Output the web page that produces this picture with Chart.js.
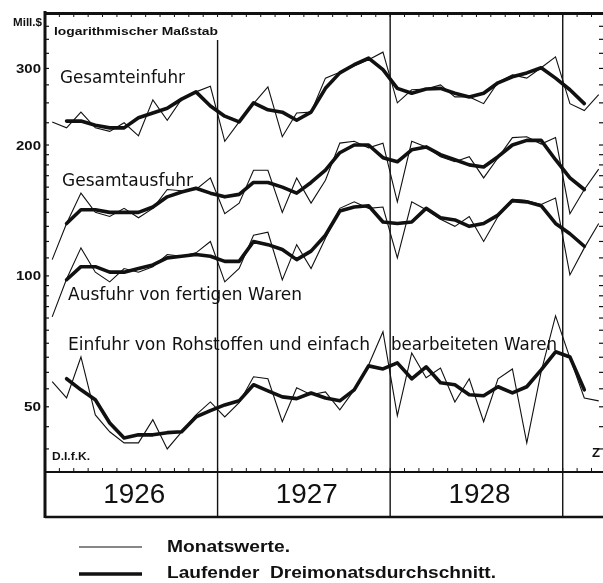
<!DOCTYPE html>
<html><head><meta charset="utf-8">
<script src="https://cdn.jsdelivr.net/npm/chart.js@4/dist/chart.umd.min.js"></script>
<style>html,body{margin:0;padding:0;background:#fff;}canvas{display:block;}</style>
</head><body>
<canvas id="c" width="603" height="583"></canvas>
<script>
// ---- data (Mill. $, monthly Jan 1926 – Mar 1929) ----
const months = ['1926-01','1926-02','1926-03','1926-04','1926-05','1926-06','1926-07','1926-08','1926-09','1926-10','1926-11','1926-12',
 '1927-01','1927-02','1927-03','1927-04','1927-05','1927-06','1927-07','1927-08','1927-09','1927-10','1927-11','1927-12',
 '1928-01','1928-02','1928-03','1928-04','1928-05','1928-06','1928-07','1928-08','1928-09','1928-10','1928-11','1928-12',
 '1929-01','1929-02','1929-03'];
const years = ['1926','1927','1928'];
const yTickLabels = [300, 200, 100, 50];

const geMonthly = [226,219,238,219,215,225,210,254,228,255,265,273,204,226,249,272,209,237,238,285,294,304,314,327,250,268,269,275,258,258,249,279,290,285,301,319,249,240,261];
const geAvg     = [null,227,227,222,219,219,231,237,243,255,265,246,233,226,250,241,238,228,238,270,293,306,317,298,270,263,269,270,263,258,263,278,287,293,301,285,268,249,null];
const gaMonthly = [109,132,155,140,137,143,136,143,158,157,158,168,139,147,175,175,140,168,147,166,202,204,197,202,148,204,198,188,183,188,168,187,208,209,201,208,139,158,176];
const gaAvg     = [null,132,142,142,140,140,140,144,152,156,159,155,152,154,164,164,160,155,164,175,192,200,200,187,183,195,198,190,185,180,178,188,200,205,205,185,168,158,null];
const afMonthly = [80.5,98.4,116,102,96.9,104,102,105,112,111,113,120,96.9,104,124,126,97.9,118,104,122,143,148,143,144,110,148,142,135,130,137,120,137,150,149,146,151,100.5,116,132];
const afAvg     = [null,98,105,105,102,102,104,106,110,111,112,111,108,108,120,118,115,109,114,124,141,144,145,133,132,133,143,136,134.5,130,132,138,149,148,145,132,125,117,null];
const erMonthly = [57.1,52.4,65.1,47.9,43.8,41.3,41.3,46.7,40.0,43.8,47.9,51.3,47.4,51.1,58.6,58.0,46.2,55.3,53.3,54.1,49.2,54.7,62.4,74.4,47.7,66.5,58.3,61.4,51.3,58.0,46.2,58.0,61.1,41.3,60.2,80.9,64.8,52.4,51.6];
const erAvg     = [null,58.0,54.7,51.9,45.9,42.4,43.1,43.1,43.6,43.8,47.4,49.0,50.5,51.6,56.2,54.4,52.7,52.2,53.8,52.4,51.6,54.7,62.1,61.1,63.1,58.0,61.8,56.8,56.2,53.3,53.0,55.6,53.8,55.6,60.8,66.9,65.1,54.7,null];

const INK = '#111';
function pts(arr){ return arr.map((v,i)=>({x:i,y:v})).filter(p=>p.y!==null); }
function thin(arr){ return {data:pts(arr), borderColor:INK, borderWidth:1.1, pointRadius:0, tension:0, fill:false}; }
function thick(arr){ return {data:pts(arr), borderColor:INK, borderWidth:3.6, pointRadius:0, tension:0, fill:false, borderCapStyle:'round', borderJoinStyle:'round'}; }

function fitText(ctx, text, x, y, w, font){
  ctx.save();
  ctx.font = font; ctx.textBaseline='middle'; ctx.textAlign='left';
  const m = ctx.measureText(text).width;
  ctx.translate(x, y); ctx.scale(w/m, 1);
  ctx.fillText(text, 0, 0);
  ctx.restore();
}

const decor = {
  id:'decor',
  beforeDatasetsDraw(chart){
    const ctx = chart.ctx, a = chart.chartArea, xs = chart.scales.x, ys = chart.scales.y;
    const bandBottom = 517;
    ctx.save();
    ctx.strokeStyle = INK; ctx.fillStyle = INK;
    // year separators
    ctx.lineWidth = 1.4;
    for (let k=1;k<=3;k++){
      const x = xs.getPixelForValue(12*k-0.5);
      ctx.beginPath(); ctx.moveTo(x, k===1?40:a.top); ctx.lineTo(x, bandBottom); ctx.stroke();
    }
    // month ticks at top and bottom axis
    ctx.lineWidth = 1;
    for (let i=0;i<=39;i++){
      const x = xs.getPixelForValue(i-0.5);
      if (x>a.right) break;
      ctx.beginPath(); ctx.moveTo(x, a.top); ctx.lineTo(x, a.top+5); ctx.stroke();
      ctx.beginPath(); ctx.moveTo(x, a.bottom); ctx.lineTo(x, a.bottom-4); ctx.stroke();
    }
    // minor ticks on log axis
    const tv = [];
    for (let v=40; v<100; v+=5) tv.push(v);
    for (let v=100; v<200; v+=10) tv.push(v);
    for (let v=200; v<=400; v+=25) tv.push(v);
    ctx.lineWidth = 1.2;
    tv.forEach(v=>{
      const y = ys.getPixelForValue(v);
      ctx.beginPath(); ctx.moveTo(a.left, y); ctx.lineTo(a.left+4, y); ctx.stroke();
      ctx.beginPath(); ctx.moveTo(a.right, y); ctx.lineTo(a.right-4, y); ctx.stroke();
    });
    // frame
    ctx.lineWidth = 3;
    ctx.beginPath(); ctx.moveTo(a.left, a.top-1); ctx.lineTo(a.left, bandBottom+1); ctx.stroke();
    ctx.beginPath(); ctx.moveTo(a.left-1, a.top+1.5); ctx.lineTo(a.right, a.top+1.5); ctx.stroke();
    ctx.lineWidth = 2;
    ctx.beginPath(); ctx.moveTo(a.left, a.bottom); ctx.lineTo(a.right, a.bottom); ctx.stroke();
    ctx.lineWidth = 2.5;
    ctx.beginPath(); ctx.moveTo(a.left, bandBottom); ctx.lineTo(a.right, bandBottom); ctx.stroke();
    ctx.restore();
  },
  afterDatasetsDraw(chart){
    const ctx = chart.ctx, a = chart.chartArea, xs = chart.scales.x, ys = chart.scales.y;
    ctx.save();
    ctx.fillStyle = INK;
    // axis labels
    yTickLabels.forEach(v=>{
      const y = ys.getPixelForValue(v);
      const txt = String(v);
      const w = txt.length===3 ? 25 : 17;
      fitText(ctx, txt, 41-w, y+1, w, 'bold 13px "Liberation Sans"');
    });
    fitText(ctx, 'Mill.$', 13, 23, 29, 'bold 11px "Liberation Sans"');
    fitText(ctx, 'logarithmischer Maßstab', 54, 32, 164, 'bold 11px "Liberation Sans"');
    // series labels
    const f = '17px "DejaVu Sans"';
    fitText(ctx, 'Gesamteinfuhr', 60, 79, 125, f);
    fitText(ctx, 'Gesamtausfuhr', 62, 182, 131, f);
    fitText(ctx, 'Ausfuhr von fertigen Waren', 68, 296, 234, f);
    fitText(ctx, 'Einfuhr von Rohstoffen und einfach', 68, 346, 302, f);
    fitText(ctx, 'bearbeiteten Waren', 391, 346, 166, f);
    fitText(ctx, 'D.I.f.K.', 52, 457, 38, 'bold 10px "Liberation Sans"');
    fitText(ctx, 'Z', 592, 453, 8, 'bold 13px "Liberation Sans"');
    // year labels
    years.forEach((yr,k)=>{
      const xc = xs.getPixelForValue(12*k+5.5) + 3;
      fitText(ctx, yr, xc-31, 495, 62, '28px "Liberation Sans"');
    });
    // legend
    ctx.strokeStyle = INK;
    ctx.lineWidth = 1.2;
    ctx.beginPath(); ctx.moveTo(79, 547); ctx.lineTo(142, 547); ctx.stroke();
    ctx.lineWidth = 3.5;
    ctx.beginPath(); ctx.moveTo(79, 574); ctx.lineTo(142, 574); ctx.stroke();
    fitText(ctx, 'Monatswerte.', 167, 547, 123, 'bold 17px "Liberation Sans"');
    fitText(ctx, 'Laufender  Dreimonatsdurchschnitt.', 167, 573, 329, 'bold 17px "Liberation Sans"');
    ctx.restore();
  }
};

new Chart(document.getElementById('c'), {
  type:'line',
  data:{ labels: months, datasets:[
    thin(geMonthly), thick(geAvg),
    thin(gaMonthly), thick(gaAvg),
    thin(afMonthly), thick(afAvg),
    thin(erMonthly), thick(erAvg)
  ]},
  options:{
    responsive:false, animation:false, devicePixelRatio:1,
    layout:{ padding:{ left:45, top:12, right:0, bottom:111 } },
    plugins:{ legend:{display:false}, tooltip:{enabled:false} },
    scales:{
      x:{ type:'linear', min:-0.5, max:38.3, display:false },
      y:{ type:'logarithmic', min:35.4, max:404.5, display:false }
    }
  },
  plugins:[decor]
});
</script>
</body></html>
